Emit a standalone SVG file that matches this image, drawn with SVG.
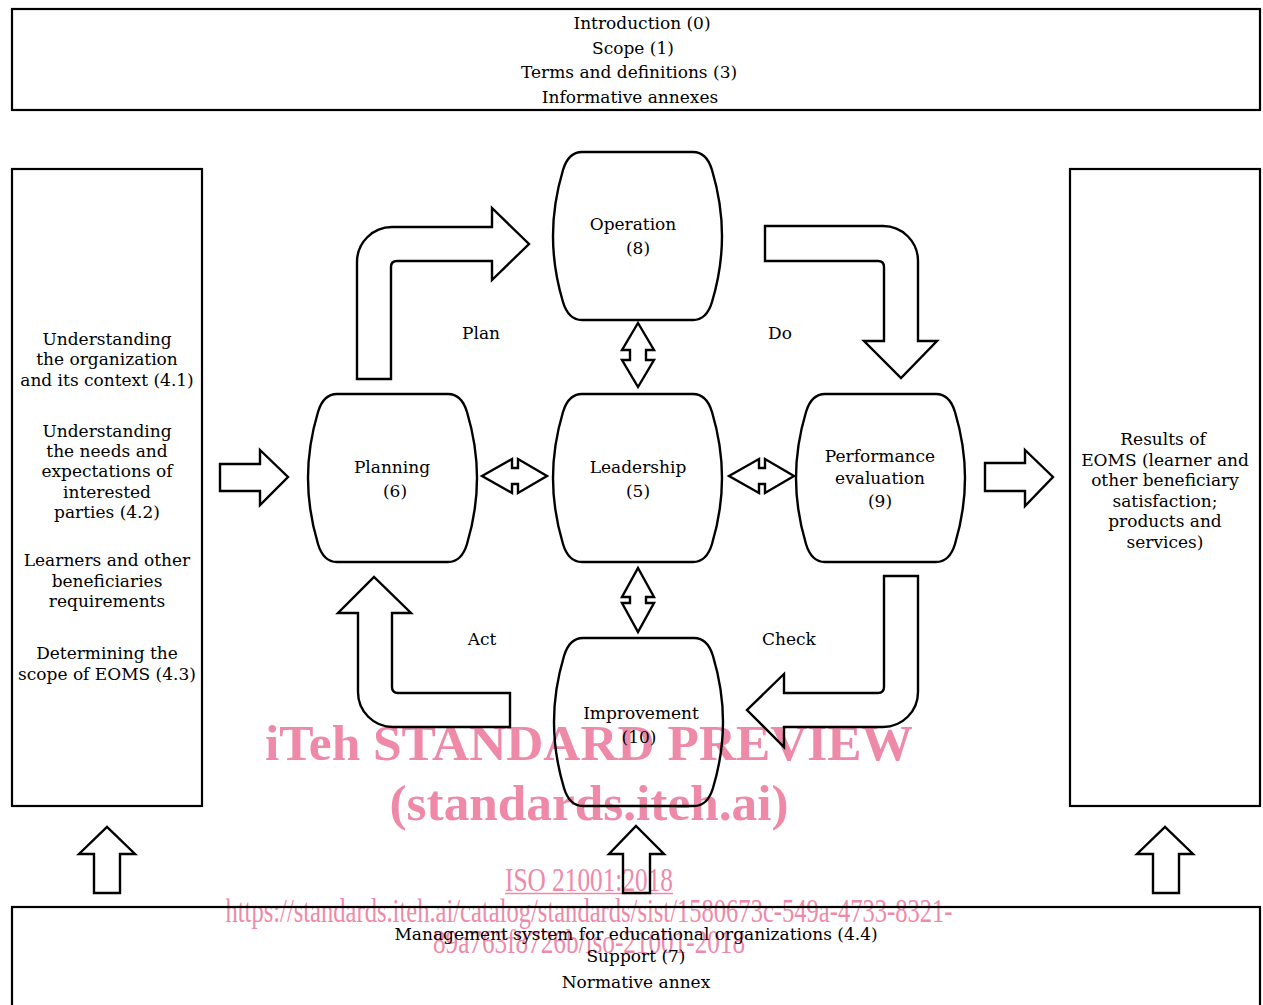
<svg xmlns="http://www.w3.org/2000/svg" width="1263" height="1005" viewBox="0 0 1263 1005">
<style>
.box{fill:none;stroke:#000;stroke-width:2.2}
.node{fill:none;stroke:#000;stroke-width:2.4}
.arr{fill:none;stroke:#000;stroke-width:2.4;stroke-linejoin:miter}
.t{font-family:"DejaVu Serif","Liberation Serif",serif;font-size:17px;fill:#000;text-anchor:middle}
.wm{font-family:"Liberation Serif","Times New Roman",serif;fill:#ee8aa8;text-anchor:middle}
.wb{font-weight:bold;font-size:51px}
.wn{font-size:33px}
</style>
<defs>
<path id="barrel" d="M29,0 H140 C150,0 156,8 159,18 C165,38 169,60 169,84 C169,108 165,130 159,150 C156,160 150,168 140,168 H29 C19,168 13,160 10,150 C4,130 0,108 0,84 C0,60 4,38 10,18 C13,8 19,0 29,0 Z"/>
</defs>
<rect x="0" y="0" width="1263" height="1005" fill="#fff"/>

<g id="watermark">
<text class="wm wb" x="589" y="760" textLength="648" lengthAdjust="spacingAndGlyphs">iTeh STANDARD PREVIEW</text>
<text class="wm wb" x="589" y="820" textLength="399" lengthAdjust="spacingAndGlyphs">(standards.iteh.ai)</text>
<text class="wm wn" x="589" y="891" textLength="168" lengthAdjust="spacingAndGlyphs">ISO 21001:2018</text>
<line x1="505" y1="893.5" x2="673" y2="893.5" stroke="#ee8aa8" stroke-width="1.5"/>
<text class="wm wn" x="589" y="922" textLength="727" lengthAdjust="spacingAndGlyphs">https://standards.iteh.ai/catalog/standards/sist/1580673c-549a-4733-8321-</text>
<text class="wm wn" x="589" y="953" textLength="312" lengthAdjust="spacingAndGlyphs">89a763f8726b/iso-21001-2018</text>
</g>

<g id="top-box">
<rect class="box" x="12" y="9" width="1248" height="101"/>
<text class="t" x="642" y="29">Introduction (0)</text>
<text class="t" x="633" y="54">Scope (1)</text>
<text class="t" x="629" y="78">Terms and definitions (3)</text>
<text class="t" x="630" y="103">Informative annexes</text>
</g>

<g id="left-box">
<rect class="box" x="12" y="169" width="190" height="637"/>
<text class="t" x="107" y="345">Understanding</text>
<text class="t" x="107" y="365">the organization</text>
<text class="t" x="107" y="386">and its context (4.1)</text>
<text class="t" x="107" y="437">Understanding</text>
<text class="t" x="107" y="457">the needs and</text>
<text class="t" x="107" y="477">expectations of</text>
<text class="t" x="107" y="498">interested</text>
<text class="t" x="107" y="518">parties (4.2)</text>
<text class="t" x="107" y="566">Learners and other</text>
<text class="t" x="107" y="587">beneficiaries</text>
<text class="t" x="107" y="607">requirements</text>
<text class="t" x="107" y="659">Determining the</text>
<text class="t" x="107" y="680">scope of EOMS (4.3)</text>
</g>

<g id="right-box">
<rect class="box" x="1070" y="169" width="190" height="637"/>
<text class="t" x="1163" y="445">Results of</text>
<text class="t" x="1165" y="466">EOMS (learner and</text>
<text class="t" x="1165" y="486">other beneficiary</text>
<text class="t" x="1165" y="507">satisfaction;</text>
<text class="t" x="1165" y="527">products and</text>
<text class="t" x="1165" y="548">services)</text>
</g>

<g id="bottom-box">
<rect class="box" x="12" y="907" width="1248" height="110"/>
<text class="t" x="636" y="940">Management system for educational organizations (4.4)</text>
<text class="t" x="636" y="962">Support (7)</text>
<text class="t" x="636" y="988">Normative annex</text>
</g>

<g id="operation">
<use href="#barrel" class="node" transform="translate(553,152)"/>
<text class="t" x="633" y="230">Operation</text>
<text class="t" x="638" y="254">(8)</text>
</g>
<g id="planning">
<use href="#barrel" class="node" transform="translate(308,394)"/>
<text class="t" x="392" y="473">Planning</text>
<text class="t" x="395" y="497">(6)</text>
</g>
<g id="leadership">
<use href="#barrel" class="node" transform="translate(553,394)"/>
<text class="t" x="638" y="473">Leadership</text>
<text class="t" x="638" y="497">(5)</text>
</g>
<g id="performance">
<use href="#barrel" class="node" transform="translate(796,394)"/>
<text class="t" x="880" y="462">Performance</text>
<text class="t" x="880" y="484">evaluation</text>
<text class="t" x="880" y="507">(9)</text>
</g>
<g id="improvement">
<use href="#barrel" class="node" transform="translate(554,638)"/>
<text class="t" x="641" y="719">Improvement</text>
<text class="t" x="639" y="743">(10)</text>
</g>

<g id="connectors">
<path class="arr" d="M357,379 V262 A35,35 0 0 1 392,227 H492 V208 L529,244 L492,280 V261 H397 Q391,261 391,267 V379 Z"/>
<path class="arr" d="M765,226 H883 A35,35 0 0 1 918,261 V341 H937 L901,378 L864,341 H884 V267 Q884,261 878,261 H765 Z"/>
<path class="arr" d="M884,576 H918 V692 A35,35 0 0 1 883,727 H784 V747 L747,710 L784,674 V693 H878 Q884,693 884,687 Z"/>
<path class="arr" d="M510,727 H393 A35,35 0 0 1 358,692 V613 H338 L374,577 L411,613 H392 V687 Q392,693 398,693 H510 Z"/>
<path class="arr" d="M638,323 L654,350 H646 V360 H654 L638,387 L622,360 H630 V350 H622 Z"/>
<path class="arr" d="M638,568 L654,597 H646 V603 H654 L638,632 L622,603 H630 V597 H622 Z"/>
<path class="arr" d="M482,476 L512,459 V468 H518 V459 L547,476 L518,493 V484 H512 V493 Z"/>
<path class="arr" d="M729,476 L759,459 V468 H765 V459 L794,476 L765,493 V484 H759 V493 Z"/>
<path class="arr" d="M220,464 H260 V450 L288,477 L260,505 V491 H220 Z"/>
<path class="arr" d="M985,463 H1025 V450 L1053,477 L1025,506 V491 H985 Z"/>
<path class="arr" d="M94,893 V854 H79 L107,827 L135,854 H120 V893 Z"/>
<path class="arr" d="M623,893 V854 H609 L636,826 L664,854 H650 V893 Z"/>
<path class="arr" d="M1153,893 V854 H1137 L1165,827 L1193,854 H1179 V893 Z"/>
<text class="t" x="481" y="339">Plan</text>
<text class="t" x="780" y="339">Do</text>
<text class="t" x="482" y="645">Act</text>
<text class="t" x="789" y="645">Check</text>
</g>
</svg>
